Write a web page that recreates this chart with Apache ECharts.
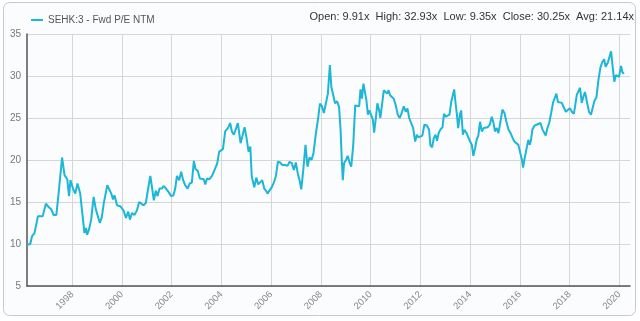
<!DOCTYPE html>
<html>
<head>
<meta charset="utf-8">
<script src="https://cdn.jsdelivr.net/npm/echarts@6/dist/echarts.min.js"></script>
<style>
  html, body { margin: 0; padding: 0; background: #fff; }
  #chart { width: 640px; height: 321px; }
</style>
</head>
<body>
<div id="chart"></div>
<script>
// decimal year of each reading
var years = [
  1996.18, 1996.31, 1996.38, 1996.48, 1996.62, 1996.67, 1996.81, 1996.94, 1997.05, 1997.16,
  1997.25, 1997.36, 1997.45, 1997.59, 1997.69, 1997.80, 1997.87, 1997.93, 1998.03, 1998.12,
  1998.21, 1998.32, 1998.41, 1998.49, 1998.55, 1998.60, 1998.68, 1998.76, 1998.86, 1998.95,
  1999.03, 1999.11, 1999.19, 1999.27, 1999.41, 1999.49, 1999.57, 1999.64, 1999.70, 1999.80,
  1999.93, 2000.06, 2000.16, 2000.25, 2000.32, 2000.40, 2000.50, 2000.60, 2000.69, 2000.77,
  2000.87, 2000.96, 2001.04, 2001.14, 2001.20, 2001.28, 2001.36, 2001.43, 2001.51, 2001.61,
  2001.67, 2001.77, 2001.87, 2001.98, 2002.07, 2002.14, 2002.21, 2002.30, 2002.38, 2002.46,
  2002.54, 2002.64, 2002.72, 2002.81, 2002.89, 2002.96, 2003.05, 2003.13, 2003.21, 2003.29,
  2003.35, 2003.42, 2003.51, 2003.62, 2003.72, 2003.83, 2003.91, 2003.98, 2004.06, 2004.15,
  2004.26, 2004.35, 2004.42, 2004.50, 2004.58, 2004.66, 2004.71, 2004.77, 2004.85, 2004.93,
  2005.01, 2005.09, 2005.16, 2005.22, 2005.32, 2005.40, 2005.48, 2005.56, 2005.64, 2005.72,
  2005.79, 2005.85, 2005.93, 2006.03, 2006.12, 2006.19, 2006.27, 2006.36, 2006.45, 2006.56,
  2006.66, 2006.74, 2006.83, 2006.91, 2006.99, 2007.07, 2007.14, 2007.21, 2007.29, 2007.38,
  2007.46, 2007.54, 2007.62, 2007.70, 2007.80, 2007.89, 2007.96, 2008.04, 2008.12, 2008.20,
  2008.28, 2008.36, 2008.42, 2008.48, 2008.57, 2008.65, 2008.73, 2008.79, 2008.84, 2008.88,
  2008.93, 2009.01, 2009.08, 2009.15, 2009.22, 2009.30, 2009.38, 2009.46, 2009.54, 2009.59,
  2009.65, 2009.71, 2009.78, 2009.83, 2009.89, 2009.95, 2010.02, 2010.09, 2010.14, 2010.21,
  2010.27, 2010.34, 2010.39, 2010.47, 2010.53, 2010.61, 2010.66, 2010.72, 2010.78, 2010.85,
  2010.93, 2011.01, 2011.09, 2011.17, 2011.25, 2011.33, 2011.41, 2011.48, 2011.55, 2011.63,
  2011.71, 2011.79, 2011.86, 2011.92, 2012.00, 2012.08, 2012.16, 2012.26, 2012.35, 2012.40,
  2012.47, 2012.54, 2012.61, 2012.67, 2012.74, 2012.81, 2012.89, 2012.95, 2013.02, 2013.10,
  2013.17, 2013.24, 2013.29, 2013.36, 2013.41, 2013.47, 2013.52, 2013.59, 2013.64, 2013.71,
  2013.77, 2013.85, 2013.93, 2014.00, 2014.07, 2014.13, 2014.20, 2014.27, 2014.33, 2014.40,
  2014.47, 2014.55, 2014.63, 2014.71, 2014.79, 2014.87, 2014.94, 2015.00, 2015.07, 2015.14,
  2015.22, 2015.30, 2015.38, 2015.46, 2015.54, 2015.62, 2015.70, 2015.78, 2015.86, 2015.94,
  2016.02, 2016.08, 2016.13, 2016.18, 2016.26, 2016.34, 2016.40, 2016.45, 2016.50, 2016.58,
  2016.67, 2016.75, 2016.83, 2016.91, 2016.99, 2017.04, 2017.11, 2017.18, 2017.26, 2017.34,
  2017.42, 2017.47, 2017.53, 2017.61, 2017.69, 2017.77, 2017.85, 2017.93, 2018.01, 2018.09,
  2018.17, 2018.22, 2018.29, 2018.35, 2018.42, 2018.49, 2018.55, 2018.62, 2018.70, 2018.78,
  2018.86, 2018.93, 2019.00, 2019.08, 2019.16, 2019.24, 2019.32, 2019.39, 2019.45, 2019.54,
  2019.62, 2019.67, 2019.74, 2019.80, 2019.86, 2019.92, 2019.99, 2020.07, 2020.12, 2020.18
];

// forward P/E, NTM
var peValues = [
  9.91, 10.0, 10.9, 11.3, 13.3, 13.2, 13.3, 14.8, 14.4, 14.1,
  13.45, 13.45, 16.0, 20.3, 18.2, 17.7, 15.7, 17.6, 16.6, 16.0,
  17.2, 16.0, 13.5, 11.3, 11.9, 11.1, 11.8, 12.9, 15.6, 14.1,
  14.0, 12.5, 13.2, 14.9, 17.0, 17.1, 16.0, 15.3, 15.8, 14.6,
  14.5, 14.0, 13.1, 13.85, 12.9, 13.7, 13.45, 14.0, 15.0, 15.15,
  14.6, 14.9, 16.4, 18.1, 16.9, 15.2, 16.35, 15.7, 16.6, 16.6,
  16.9, 16.6, 16.2, 15.7, 15.8, 16.6, 18.1, 17.6, 18.6, 17.6,
  17.0, 16.6, 17.2, 17.3, 19.9, 18.9, 18.7, 17.8, 17.95, 17.7,
  17.1, 17.8, 17.7, 18.1, 18.8, 19.6, 21.0, 20.8, 21.3, 23.4,
  23.8, 24.4, 23.4, 23.0, 23.2, 24.4, 24.2, 22.0, 22.2, 23.9,
  22.6, 21.0, 21.6, 18.0, 16.75, 17.9, 17.1, 17.2, 17.6, 16.6,
  16.35, 16.0, 16.35, 16.8, 17.4, 18.1, 19.8, 19.7, 19.4, 19.4,
  19.3, 19.8, 19.6, 18.8, 19.7, 18.4, 17.6, 16.5, 18.8, 21.8,
  19.2, 20.3, 20.0, 20.8, 23.2, 25.0, 26.7, 26.4, 25.6, 25.4,
  27.9, 31.3, 28.7, 28.5, 26.75, 27.0, 26.3, 23.6, 20.0, 17.6,
  19.6, 20.0, 20.5, 19.7, 19.2, 21.8, 26.5, 26.3, 26.4, 28.4,
  27.3, 29.1, 29.2, 27.1, 25.4, 25.9, 25.95, 24.8, 23.25, 25.0,
  26.75, 25.95, 25.0, 26.9, 28.3, 28.5, 27.9, 28.3, 27.7, 27.9,
  27.3, 26.5, 25.4, 25.0, 25.6, 26.4, 25.75, 26.15, 25.0, 24.8,
  23.8, 22.2, 23.0, 22.7, 22.5, 22.9, 24.2, 24.1, 23.6, 21.8,
  21.5, 22.6, 23.0, 22.3, 23.25, 23.65, 23.9, 25.5, 25.15, 25.15,
  25.4, 26.9, 27.1, 28.4, 26.9, 25.4, 23.8, 25.4, 25.9, 23.0,
  23.6, 23.25, 23.4, 22.2, 21.8, 20.5, 21.4, 22.5, 22.9, 24.55,
  23.4, 23.8, 23.8, 23.9, 24.2, 25.15, 24.4, 23.4, 23.8, 23.2,
  24.55, 26.0, 25.6, 24.55, 23.65, 23.25, 22.7, 22.2, 22.3, 21.8,
  20.8, 20.1, 19.1, 20.0, 21.2, 22.4, 21.8, 22.4, 23.6, 24.05,
  24.2, 24.4, 24.4, 23.65, 23.6, 22.9, 23.8, 24.4, 25.6, 26.9,
  27.05, 27.9, 26.9, 27.05, 26.8, 26.25, 25.75, 25.95, 26.15, 25.75,
  25.5, 26.35, 27.75, 27.9, 28.6, 26.8, 27.5, 28.1, 26.9, 25.75,
  25.4, 25.5, 27.05, 27.45, 29.5, 31.0, 31.7, 32.0, 31.1, 31.6,
  31.7, 32.93, 30.9, 29.3, 30.1, 29.9, 29.9, 31.2, 30.5, 30.25
];

var tickYears = [1998, 2000, 2002, 2004, 2006, 2008, 2010, 2012, 2014, 2016, 2018, 2020];
var seriesName = 'SEHK:3 - Fwd P/E NTM';
var statsText = 'Open: 9.91x  High: 32.93x  Low: 9.35x  Close: 30.25x  Avg: 21.14x';

var lineColor = '#1db6d6';

var points = years.map(function (y, i) { return [y, peValues[i]]; });

var chart = echarts.init(document.getElementById('chart'), null, { renderer: 'canvas' });

var option = {
    backgroundColor: '#ffffff',
    animation: false,
    graphic: [
        {
            type: 'rect',
            z: -10,
            shape: { x: 3.5, y: 2.5, width: 632, height: 313, r: 6 },
            style: { fill: '#fbfcfe', stroke: '#c9c9c9', lineWidth: 1 }
        },
        {
            type: 'text',
            right: 6,
            top: 11,
            style: {
                text: statsText,
                fill: '#333',
                font: '11px "Liberation Sans", sans-serif'
            }
        }
    ],
    legend: {
        left: 26,
        top: 10,
        icon: 'rect',
        itemWidth: 12,
        itemHeight: 2,
        itemGap: 4,
        textStyle: { color: '#555', fontSize: 10, fontFamily: 'Liberation Sans, sans-serif' },
        data: [seriesName]
    },
    grid: { left: 27, right: 10, top: 34, bottom: 35 },
    xAxis: {
        type: 'value',
        min: 1996.18,
        max: 2020.43,
        axisLine: { show: true, lineStyle: { color: '#555', width: 1.5 } },
        axisTick: { show: false, customValues: tickYears },
        axisLabel: {
            customValues: tickYears,
            rotate: 45,
            color: '#888',
            fontSize: 9.5,
            fontFamily: 'Liberation Sans, sans-serif',
            margin: 7,
            formatter: function (v) { return String(Math.round(v)); }
        },
        splitLine: { show: true, lineStyle: { color: '#d6d6d6', width: 1 } }
    },
    yAxis: {
        type: 'value',
        min: 5,
        max: 35,
        interval: 5,
        axisLine: { show: true, lineStyle: { color: '#555', width: 1.5 } },
        axisTick: { show: false },
        axisLabel: { color: '#777', fontSize: 10, fontFamily: 'Liberation Sans, sans-serif', margin: 6 },
        splitLine: { show: true, lineStyle: { color: '#d6d6d6', width: 1 } }
    },
    series: [
        {
            name: seriesName,
            type: 'line',
            data: points,
            showSymbol: false,
            symbol: 'none',
            lineStyle: { color: lineColor, width: 2 },
            itemStyle: { color: lineColor }
        }
    ]
};

chart.setOption(option);
</script>
</body>
</html>
